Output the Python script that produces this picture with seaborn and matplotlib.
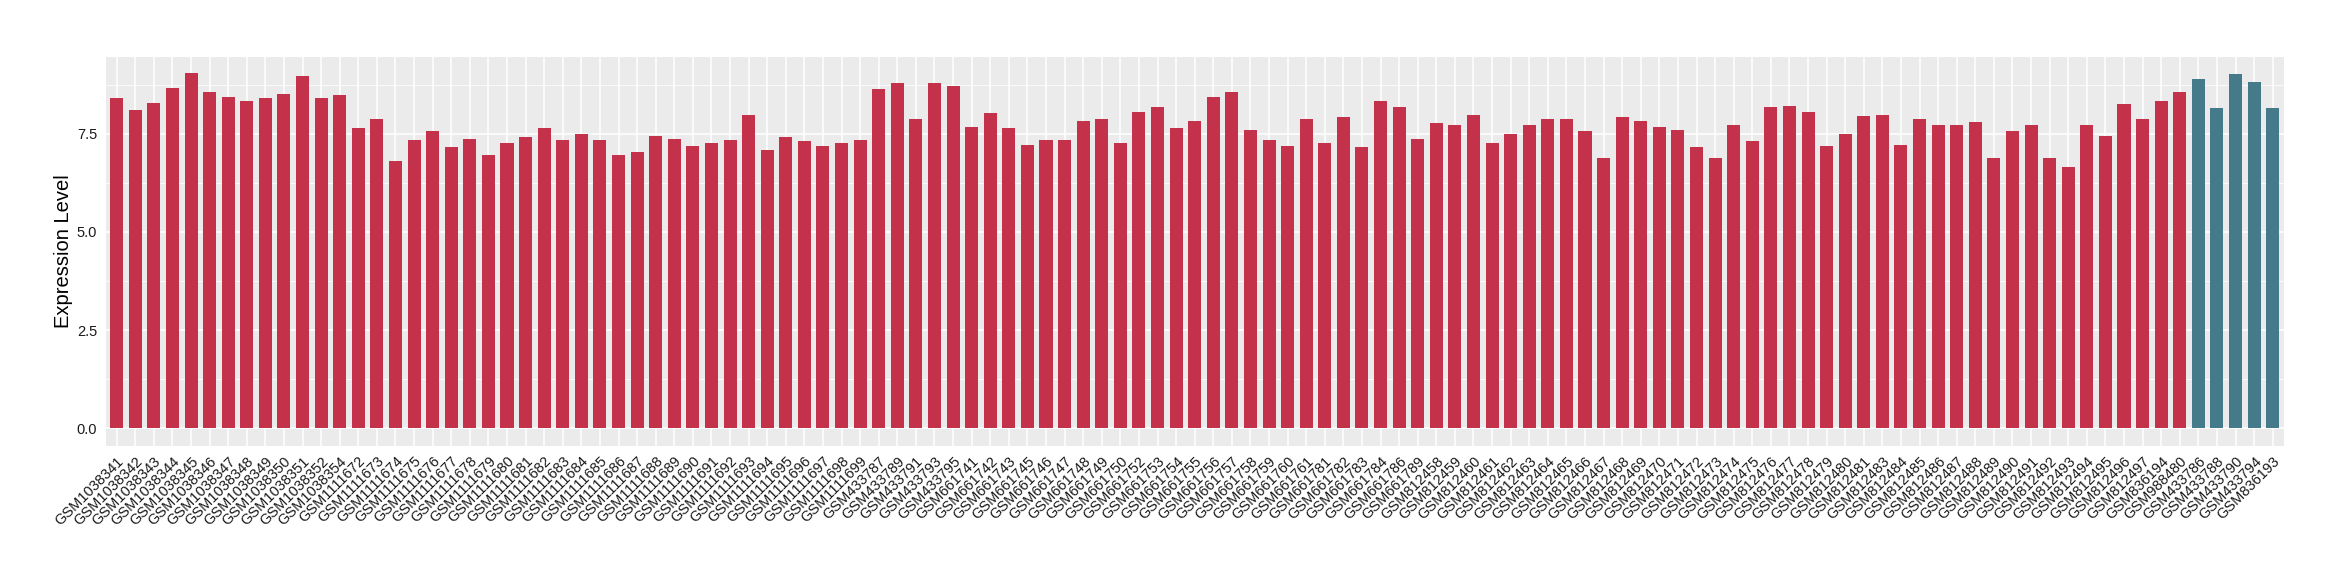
import pandas as pd
import seaborn as sns
import matplotlib.pyplot as plt
from matplotlib.ticker import MultipleLocator

# sample ids, in plot order
samples = [
    "GSM1038341", "GSM1038342", "GSM1038343", "GSM1038344", "GSM1038345",
    "GSM1038346", "GSM1038347", "GSM1038348", "GSM1038349", "GSM1038350",
    "GSM1038351", "GSM1038352", "GSM1038354",
    "GSM1111672", "GSM1111673", "GSM1111674", "GSM1111675", "GSM1111676",
    "GSM1111677", "GSM1111678", "GSM1111679", "GSM1111680", "GSM1111681",
    "GSM1111682", "GSM1111683", "GSM1111684", "GSM1111685", "GSM1111686",
    "GSM1111687", "GSM1111688", "GSM1111689", "GSM1111690", "GSM1111691",
    "GSM1111692", "GSM1111693", "GSM1111694", "GSM1111695", "GSM1111696",
    "GSM1111697", "GSM1111698", "GSM1111699",
    "GSM433787", "GSM433789", "GSM433791", "GSM433793", "GSM433795",
    "GSM661741", "GSM661742", "GSM661743", "GSM661745", "GSM661746",
    "GSM661747", "GSM661748", "GSM661749", "GSM661750", "GSM661752",
    "GSM661753", "GSM661754", "GSM661755", "GSM661756", "GSM661757",
    "GSM661758", "GSM661759", "GSM661760", "GSM661761", "GSM661781",
    "GSM661782", "GSM661783", "GSM661784", "GSM661786", "GSM661789",
    "GSM812458", "GSM812459", "GSM812460", "GSM812461", "GSM812462",
    "GSM812463", "GSM812464", "GSM812465", "GSM812466", "GSM812467",
    "GSM812468", "GSM812469", "GSM812470", "GSM812471", "GSM812472",
    "GSM812473", "GSM812474", "GSM812475", "GSM812476", "GSM812477",
    "GSM812478", "GSM812479", "GSM812480", "GSM812481", "GSM812483",
    "GSM812484", "GSM812485", "GSM812486", "GSM812487", "GSM812488",
    "GSM812489", "GSM812490", "GSM812491", "GSM812492", "GSM812493",
    "GSM812494", "GSM812495", "GSM812496", "GSM812497",
    "GSM836194", "GSM988480",
    "GSM433786", "GSM433788", "GSM433790", "GSM433794", "GSM836193",
]

expression = [
    8.41, 8.11, 8.30, 8.68, 9.06, 8.56, 8.45, 8.34, 8.41, 8.53,
    8.98, 8.41, 8.49,
    7.65, 7.88, 6.81, 7.35, 7.58, 7.16, 7.38, 6.97, 7.27, 7.42,
    7.65, 7.35, 7.50, 7.35, 6.97, 7.04, 7.46, 7.38, 7.19, 7.27,
    7.35, 7.99, 7.08, 7.42, 7.31, 7.19, 7.27, 7.35,
    8.64, 8.79, 7.88, 8.79, 8.72,
    7.69, 8.03, 7.65, 7.23, 7.35, 7.35, 7.84, 7.88, 7.27, 8.07,
    8.18, 7.65, 7.84, 8.45, 8.56, 7.61, 7.35, 7.19, 7.88, 7.27,
    7.92, 7.16, 8.34, 8.18, 7.38,
    7.77, 7.73, 7.99, 7.27, 7.50, 7.73, 7.88, 7.88, 7.58, 6.89,
    7.92, 7.84, 7.69, 7.61, 7.16, 6.89, 7.73, 7.31, 8.18, 8.22,
    8.07, 7.19, 7.50, 7.96, 7.99, 7.23, 7.88, 7.73, 7.73, 7.80,
    6.89, 7.58, 7.73, 6.89, 6.66, 7.73, 7.46, 8.26, 7.88,
    8.34, 8.56,
    8.91, 8.15, 9.02, 8.83, 8.15,
]

# last five samples are the highlighted group
groups = ["other"] * (len(samples) - 5) + ["highlight"] * 5
colors = {"other": "#C3324A", "highlight": "#457A8B"}

df = pd.DataFrame({"sample": samples, "expr": expression, "group": groups})

sns.set_theme(style="darkgrid")
plt.rcParams["font.family"] = ["Liberation Sans", "DejaVu Sans"]

fig = plt.figure(figsize=(23.4, 5.8), dpi=100)
ax = fig.add_axes([0.0451, 0.2316, 0.9309, 0.6706])
ax.set_facecolor("#EBEBEB")

sns.barplot(data=df, x="sample", y="expr", hue="group", palette=colors,
            dodge=False, width=0.7, legend=False, ax=ax, saturation=1)
for p in ax.patches:
    p.set_edgecolor("none")

ax.set_xlim(-0.6, len(samples) - 0.4)
ax.set_ylim(-0.45, 9.47)
ax.yaxis.set_major_locator(MultipleLocator(2.5))
ax.yaxis.set_minor_locator(MultipleLocator(1.25))
ax.yaxis.set_major_formatter(plt.FuncFormatter(lambda v, _: f"{v:.1f}"))

ax.grid(which="major", color="white", linewidth=1.1)
ax.grid(which="minor", axis="y", color="white", linewidth=0.55)
ax.set_axisbelow(True)
for s in ax.spines.values():
    s.set_visible(False)

ax.tick_params(axis="both", which="major", length=4, width=0.8, color="#333333",
               labelsize=10.5, labelcolor="#1A1A1A", pad=2)
ax.tick_params(axis="y", which="minor", length=0)
plt.setp(ax.get_xticklabels(), rotation=45, ha="right", va="top",
         rotation_mode="anchor")

ax.set_xlabel("")
ax.set_ylabel("Expression Level", fontsize=14.5, color="black", labelpad=3)

fig.savefig("out.png", dpi=100, facecolor="white")
